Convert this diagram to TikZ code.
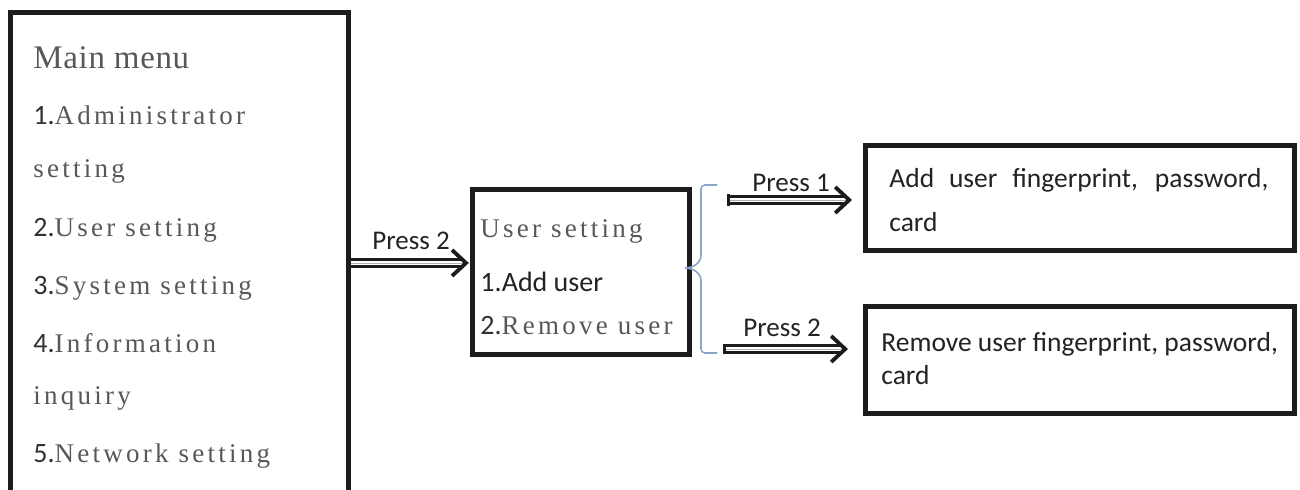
\documentclass[tikz,border=0pt]{standalone}
\usepackage{fontspec}
\setmainfont{Liberation Serif}
\newfontfamily\monofnt[LetterSpace=12]{Liberation Serif}
\newfontfamily\titlefnt[LetterSpace=2]{Liberation Serif}
\newfontfamily\sansfnt{Carlito}
\usetikzlibrary{arrows.meta}
\definecolor{txtgray}{RGB}{88,88,88}
\definecolor{digitc}{RGB}{50,50,50}
\definecolor{sansc}{RGB}{35,35,35}
\definecolor{bracec}{RGB}{135,165,200}
\definecolor{boxline}{RGB}{28,28,28}
\newcommand\mydig[1]{{\sansfnt\fontsize{14pt}{16pt}\selectfont\color{digitc}#1}}
\tikzset{
  frame/.style={draw=boxline, line width=2.5pt, inner sep=0pt, fill=none},
  menu/.style={anchor=base west, inner sep=0pt, text=txtgray, font=\monofnt\fontsize{13.5pt}{16pt}\selectfont},
  sanstxt/.style={anchor=base west, inner sep=0pt, text=sansc, font=\sansfnt\fontsize{13.75pt}{16pt}\selectfont},
  presslbl/.style={anchor=base west, inner sep=0pt, text=sansc, font=\sansfnt\fontsize{13.5pt}{16pt}\selectfont},
  hshaft/.style={draw=boxline, double=white, double distance=2pt, line width=1.6pt},
  hhead/.style={draw=boxline, line width=0.01pt, -{Straight Barb[length=7pt, width=13pt, line width=1.9pt]}},
  capbar/.style={draw=boxline, line width=1.6pt},
  bracestyle/.style={draw=bracec, line width=0.8pt}
}
\begin{document}
\begin{tikzpicture}[x=0.5pt,y=-0.5pt]
\useasboundingbox (0,0) rectangle (1300,490);
\fill[white] (0,0) rectangle (1300,490);
\clip (0,0) rectangle (1300,490);

% boxes
\node[frame, minimum width=169pt, minimum height=273.75pt] (main) at (179,286.25) {};
\node[frame, minimum width=108.5pt, minimum height=82.5pt] (mid) at (581,272) {};
\node[frame, minimum width=214.5pt, minimum height=52.5pt] (addbox) at (1080,198) {};
\node[frame, minimum width=214.5pt, minimum height=53.5pt] (rembox) at (1080,360) {};

% main menu text
\node[menu, font=\titlefnt\fontsize{16.5pt}{19pt}\selectfont] (m0) at (33,69) {Main menu};
\node[menu] (m1) at (33,125) {\mydig{1.}Administrator};
\node[menu] (m1b) at (33,178) {setting};
\node[menu] (m2) at (33,237) {\mydig{2.}User setting};
\node[menu] (m3) at (33,295) {\mydig{3.}System setting};
\node[menu] (m4) at (33,353) {\mydig{4.}Information};
\node[menu] (m4b) at (33,405) {inquiry};
\node[menu] (m5) at (33,463) {\mydig{5.}Network setting};

% user setting box text
\node[menu] (u0) at (480,238) {User setting};
\node[sanstxt, font=\sansfnt\fontsize{14pt}{16pt}\selectfont] (u1) at (480,292) {1.Add user};
\node[menu] (u2) at (480,335) {\mydig{2.}Remove user};

% right boxes text
\node[sanstxt] (a1) at (889,188) {\makebox[189.5pt][s]{Add user fingerprint, password,}};
\node[sanstxt] (a2) at (889,232) {card};
\node[sanstxt] (r1) at (881,352) {Remove user fingerprint, password,};
\node[sanstxt] (r2) at (881,385) {card};

% brace
\draw[bracestyle, rounded corners=2pt] (717,185) -- (701,185) -- (701,255);
\draw[bracestyle] (701,255) to[out=-90,in=0] (685,268) to[out=0,in=90] (701,281);
\draw[bracestyle, rounded corners=2pt] (701,281) -- (701,353) -- (717,353);

% arrows
\coordinate (s1) at (727,200);
\coordinate (s2) at (723,349);
\draw[hshaft, shorten >=3pt] (main.east |- 0,263) -- (mid.west |- 0,263);
\draw[hhead, shorten >=0.6pt] (main.east |- 0,263) -- (mid.west |- 0,263);
\draw[hshaft, shorten >=7.9pt] (s1) -- (addbox.west |- s1);
\draw[hhead, shorten >=5.5pt] (s1) -- (addbox.west |- s1);
\draw[hshaft, shorten >=9.9pt] (s2) -- (rembox.west |- s2);
\draw[hhead, shorten >=7.5pt] (s2) -- (rembox.west |- s2);
\draw[capbar] ([xshift=0.8pt]s1) ++(0,-6) -- ++(0,12);
\draw[capbar] ([xshift=0.8pt]s2) ++(0,-5) -- ++(0,10);

% labels
\node[presslbl] (l1) at (372,250) {Press 2};
\node[presslbl] (l2) at (752,192) {Press 1};
\node[presslbl] (l3) at (743,337) {Press 2};
\end{tikzpicture}
\end{document}
